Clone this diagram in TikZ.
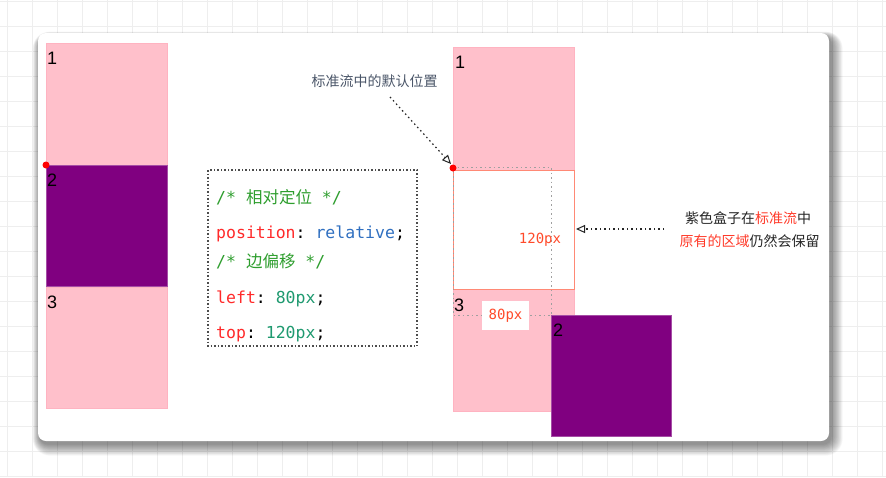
\documentclass[tikz,border=0pt]{standalone}
\usepackage{fontspec}
\setmainfont{Liberation Sans}
\setmonofont{DejaVu Sans Mono}
\newfontfamily\cjk{Noto Sans CJK SC}
\usetikzlibrary{arrows.meta}
\definecolor{pinkbox}{HTML}{FFC0CB}
\definecolor{pinkedge}{HTML}{FFB3C1}
\definecolor{purplebox}{HTML}{800080}
\definecolor{purpleedge}{HTML}{A54DA5}
\definecolor{cmtgreen}{HTML}{2E9E2E}
\definecolor{propred}{HTML}{FF2A2A}
\definecolor{valblue}{HTML}{2F6FC0}
\definecolor{numteal}{HTML}{1F9A70}
\definecolor{pxred}{HTML}{FF4A2A}
\definecolor{slate}{HTML}{4A5568}
\definecolor{hlred}{HTML}{FF3B2A}
\definecolor{gridc}{HTML}{EEEEEE}
\begin{document}
\begin{tikzpicture}[x=1pt,y=-1pt,
  pinkrect/.style={fill=pinkbox,draw=pinkedge,line width=0.6pt},
  purplerect/.style={fill=purplebox,draw=purpleedge,line width=0.6pt},
  numlbl/.style={anchor=base west,inner sep=0pt,font=\fontsize{18}{18}\selectfont},
  codeline/.style={anchor=base west,inner sep=0pt,font=\fontsize{16.5}{16.5}\selectfont\ttfamily},
  guide/.style={draw=gray!75,line width=1pt,dash pattern=on 1.5pt off 3pt},
  pointer/.style={draw=black!85,line width=1.2pt,dash pattern=on 1.5pt off 3pt,
     -{Triangle[open,length=9pt,width=8pt,line width=1pt]}},
  annot/.style={inner sep=0pt,font=\fontsize{14}{14}\selectfont\cjk},
  reddot/.style={circle,fill=red,inner sep=0pt,minimum size=7pt}]
\useasboundingbox (0,0) rectangle (886,477);
\fill[white] (0,0) rectangle (886,477);
% grid
\foreach \gx in {7,32,...,882} \draw[gridc,line width=0.8pt] (\gx,0) -- (\gx,477);
\foreach \gy in {1,26,...,476} \draw[gridc,line width=0.8pt] (0,\gy) -- (886,\gy);
% card shadow
\foreach \s in {1,...,18}
  \fill[black,opacity=0.028,rounded corners=8pt+\s*0.5pt]
    (38-\s*0.4+2,33-\s*0.3+4) rectangle (829+\s*0.65+2,441+\s*0.65+3);
\fill[white,rounded corners=8pt] (38,33) rectangle (829,441);

% left column
\draw[pinkrect] (46,43) rectangle (167,165);
\draw[purplerect] (46,165) rectangle (167,286);
\draw[pinkrect] (46,287) rectangle (167,408);
\node[numlbl] (l1) at (47,64) {1};
\node[numlbl] (l2) at (47,186) {2};
\node[numlbl] (l3) at (47,308) {3};
\node[reddot] (ldot) at (46,165) {};

% code box
\draw[black!70,line width=1.2pt,dash pattern=on 1.5pt off 2pt] (208,170) rectangle (417,346);
\node[codeline,text=cmtgreen] (c1) at (216,203) {/* {\cjk 相对定位} */};
\node[codeline] (c2) at (216,238) {\textcolor{propred}{position}: \textcolor{valblue}{relative};};
\node[codeline,text=cmtgreen] (c3) at (216,267) {/* {\cjk 边偏移} */};
\node[codeline] (c4) at (216,303) {\textcolor{propred}{left}: \textcolor{numteal}{80px};};
\node[codeline] (c5) at (216,338) {\textcolor{propred}{top}: \textcolor{numteal}{120px};};

% right column
\draw[pinkrect] (453,47) rectangle (574,170);
\draw[pinkrect] (453,289) rectangle (574,411);
\draw[fill=white,draw=pxred!65,line width=1pt] (453,170) rectangle (574,289);
\coordinate (g0) at (453,167);
\coordinate (g1) at (551,167);
\coordinate (g2) at (551,315);
\coordinate (g3) at (453,315);
\draw[guide] (g0) -- (g1) -- (g2);
\draw[guide] (g0) -- (g3) -- (g2);
\node[inner sep=0pt,font=\fontsize{14}{14}\selectfont\ttfamily,text=pxred] (px120) at (540,240) {120px};
\node[fill=white,minimum width=47pt,minimum height=29pt,inner sep=0pt,font=\fontsize{14}{14}\selectfont\ttfamily,text=pxred] (px80) at (505.5,315.5) {80px};
\draw[purplerect] (551,315) rectangle (671,436);
\node[numlbl] (r1) at (455,68) {1};
\node[numlbl] (r3) at (454,311) {3};
\node[numlbl] (r2) at (553,336) {2};
\node[reddot] (rdot) at (453,168) {};

% annotations
\node[annot,text=slate] (a1) at (374.5,81) {标准流中的默认位置};
\coordinate (a1s) at (390,97);
\coordinate (a1e) at (451,164);
\draw[pointer] (a1s) -- (a1e);
\node[annot,text=black!85] (a2) at (748,218) {紫色盒子在\textcolor{hlred}{标准流}中};
\node[annot,text=black!85] (a3) at (749.5,241.5) {\textcolor{hlred}{原有的区域}仍然会保留};
\coordinate (a2s) at (664,229);
\coordinate (a2e) at (576,229);
\draw[pointer] (a2s) -- (a2e);
\end{tikzpicture}
\end{document}
